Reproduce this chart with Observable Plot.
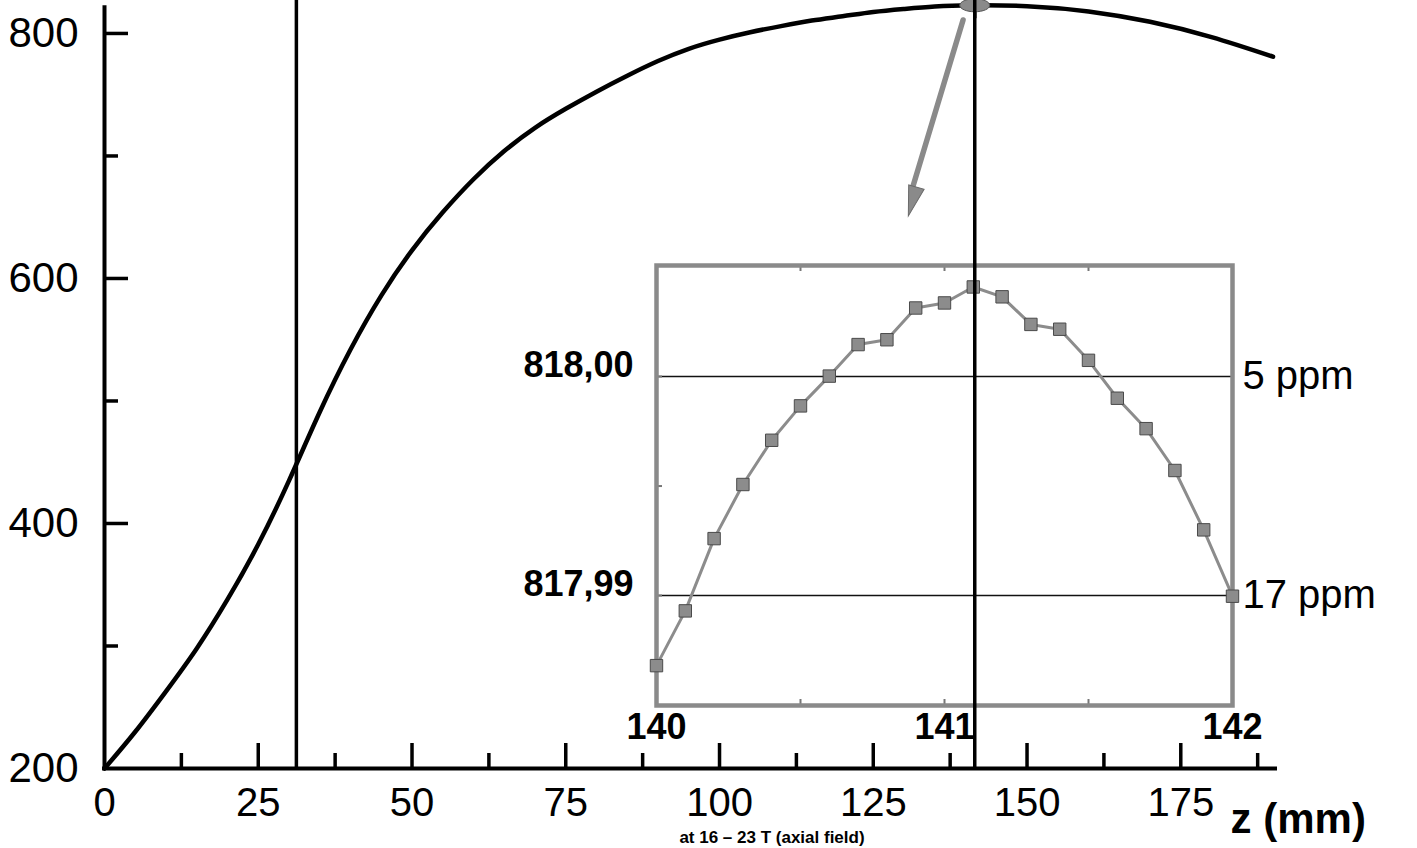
<!DOCTYPE html>
<html>
<head>
<meta charset="utf-8">
<script src="https://cdn.jsdelivr.net/npm/d3@7"></script>
<script src="https://cdn.jsdelivr.net/npm/@observablehq/plot@0.6"></script>
<style>
html, body { margin: 0; padding: 0; background: #fff; }
#wrap { position: relative; width: 1417px; height: 848px; overflow: hidden; font-family: "Liberation Sans", Arial, Helvetica, sans-serif; }
#inset { position: absolute; left: 0; top: 0; z-index: 1; }
#main { position: absolute; left: 0; top: 0; z-index: 2; }
#wrap svg { overflow: visible; }
#caption { position: absolute; top: 829px; left: 772px; transform: translateX(-50%); white-space: nowrap;
  font: bold 17px "Liberation Sans", Arial, sans-serif; line-height: 1; color: #000; z-index: 3; }
</style>
</head>
<body>
<div id="wrap">
  <div id="inset"></div>
  <div id="main"></div>
  <div id="caption"></div>
</div>
<script>
// ---- main curve: field B vs z (mm) ----
const mainZ = [0, 5, 10, 15, 20, 25, 30, 35, 40, 45, 50, 55, 60, 65, 70, 75, 80, 85, 90, 95, 100, 105, 110, 115, 120, 125, 130, 135, 141, 150, 160, 170, 180, 190];
const mainB = [200, 230, 263, 298, 338, 383, 435, 491, 542, 586, 623, 654, 681, 704, 723, 738.5, 752.5, 765.5, 777.5, 787.5, 795, 801, 806, 810.5, 814, 817.5, 820, 822, 823, 822.3, 818, 809.5, 797, 781];

// ---- inset: zoom around the maximum ----
const insetZ = [140.0, 140.1, 140.2, 140.3, 140.4, 140.5, 140.6, 140.7, 140.8, 140.9, 141.0, 141.1, 141.2, 141.3, 141.4, 141.5, 141.6, 141.7, 141.8, 141.9, 142.0];
const insetB = [817.9868, 817.9893, 817.9926, 817.99507, 817.99709, 817.99866, 818.00002, 818.00146, 818.00168, 818.00313, 818.00336, 818.00409, 818.00364, 818.00238, 818.00216, 818.00074, 817.99901, 817.99762, 817.99571, 817.99300, 817.98997];

// ---- main axis ticks ----
const xTickValues = [0, 25, 50, 75, 100, 125, 150, 175];
const xMajorTicks = [25, 50, 75, 100, 125, 150, 175];
const xMinorTicks = [12.5, 37.5, 62.5, 87.5, 112.5, 137.5, 162.5, 187.5];
const yTickValues = [200, 400, 600, 800];
const yMajorTicks = [400, 600, 800];
const yMinorTicks = [300, 500, 700];
const xAxisLabel = ["z (mm)"];

// ---- annotations ----
const guideZ = [31.2, 141.5];
const peakZ = [141.5];
const peakB = [823];
const arrowFromZ = [139.6], arrowFromB = [811];
const arrowToZ = [130.7], arrowToB = [651];

// ---- inset ticks / labels ----
const insetXTicks = [140, 141, 142];
const insetXMinor = [140.5, 141, 141.5];
const insetYMinor = [818.00, 817.995, 817.99];
const insetGridB = [818.00, 817.99];
const insetGridLabels = ["818,00", "817,99"];
const ppmLabels = ["5 ppm", "17 ppm"];
const captionText = "at 16 \u2013 23 T (axial field)";

const FONT = "Liberation Sans, Arial, Helvetica, sans-serif";
const W = 1417, H = 830;

const mainData = mainZ.map((z, i) => ({z, b: mainB[i]}));
const insetData = insetZ.map((z, i) => ({z, b: insetB[i]}));

const ellipseSymbol = {
  draw(ctx) {
    const rx = 15, ry = 6.5, k = 0.5523;
    ctx.moveTo(rx, 0);
    ctx.bezierCurveTo(rx, ry * k, rx * k, ry, 0, ry);
    ctx.bezierCurveTo(-rx * k, ry, -rx, ry * k, -rx, 0);
    ctx.bezierCurveTo(-rx, -ry * k, -rx * k, -ry, 0, -ry);
    ctx.bezierCurveTo(rx * k, -ry, rx, -ry * k, rx, 0);
    ctx.closePath();
  }
};
// narrow arrow head, tip at origin, pointing down
const headSymbol = {
  draw(ctx) {
    ctx.moveTo(0, 0);
    ctx.lineTo(-8, -30);
    ctx.lineTo(8, -30);
    ctx.closePath();
  }
};

const ypx = 768 / (826.9 - 200); // px per unit (main y)
const xpx = 1171 / 190.4;        // px per unit (main x)
const adx = (arrowToZ[0] - arrowFromZ[0]) * xpx, ady = (arrowFromB[0] - arrowToB[0]) * ypx;
const headRotate = -Math.atan2(adx, ady) * 180 / Math.PI;

const main = Plot.plot({
  width: W, height: H,
  marginLeft: 104, marginRight: W - 1275, marginTop: 0, marginBottom: H - 768,
  x: {domain: [0, 190.4], axis: null},
  y: {domain: [200, 826.9], axis: null},
  style: {background: "transparent", overflow: "visible", fontFamily: FONT},
  marks: [
    Plot.ruleX(guideZ, {y1: 200, y2: 826.9, stroke: "#000", strokeWidth: 3.5}),
    Plot.ruleY([200], {stroke: "#000", strokeWidth: 4, strokeLinecap: "square"}),
    Plot.ruleX([0], {y1: 200, y2: 821, stroke: "#000", strokeWidth: 4, strokeLinecap: "square"}),
    Plot.ruleX(xMajorTicks, {y1: 200, y2: 200 + 25 / ypx, stroke: "#000", strokeWidth: 3.5}),
    Plot.ruleX(xMinorTicks, {y1: 200, y2: 200 + 15 / ypx, stroke: "#000", strokeWidth: 3.5}),
    Plot.ruleY(yMajorTicks, {x1: 0, x2: 24 / xpx, stroke: "#000", strokeWidth: 3.5}),
    Plot.ruleY(yMinorTicks, {x1: 0, x2: 14 / xpx, stroke: "#000", strokeWidth: 3.5}),
    Plot.text(xTickValues, {x: d => d, y: 200, text: d => String(d), dy: 47, lineAnchor: "bottom", textAnchor: "middle", fontSize: 40, fill: "#000", fontFamily: FONT}),
    Plot.text(yTickValues, {x: 0, y: d => d, text: d => String(d), dx: -26, textAnchor: "end", lineAnchor: "middle", fontSize: 42, fill: "#000", fontFamily: FONT}),
    Plot.text(xAxisLabel, {x: 183.1, y: 200, text: d => d, dy: 64, lineAnchor: "bottom", textAnchor: "start", fontSize: 42, fontWeight: "bold", fill: "#000", fontFamily: FONT}),
    Plot.line(mainData, {x: "z", y: "b", curve: "natural", stroke: "#000", strokeWidth: 4.5}),
    Plot.link([0], {x1: () => arrowFromZ[0], y1: () => arrowFromB[0], x2: () => arrowToZ[0] + 0.5, y2: () => arrowToB[0] + 20, stroke: "#8a8a8a", strokeWidth: 5.5, strokeLinecap: "round"}),
    Plot.dot([0], {x: () => arrowToZ[0], y: () => arrowToB[0], symbol: headSymbol, rotate: headRotate, fill: "#8a8a8a", stroke: "#6a6a6a", strokeWidth: 1}),
    Plot.dot(peakZ.map((z, i) => ({z, b: peakB[i]})), {x: "z", y: "b", symbol: ellipseSymbol, fill: "#8a8a8a", stroke: "#555", strokeWidth: 1}),
    Plot.ruleX([guideZ[1]], {y1: 812, y2: 826.9, stroke: "#000", strokeWidth: 3.5})
  ]
});
document.getElementById("main").append(main);

const iy = 21900; // px per unit in inset y
const ix = 288;   // px per unit in inset x
const yTop = 818.00507, yBot = 817.98498;
const inset = Plot.plot({
  width: W, height: H,
  marginLeft: 656, marginRight: W - 1232, marginTop: 265, marginBottom: H - 705,
  x: {domain: [140, 142], axis: null},
  y: {domain: [yBot, yTop], axis: null},
  style: {background: "transparent", overflow: "visible", fontFamily: FONT},
  marks: [
    Plot.ruleY(insetGridB, {stroke: "#111", strokeWidth: 1.4}),
    Plot.ruleX(insetXMinor, {y1: yTop, y2: yTop - 6 / iy, stroke: "#777", strokeWidth: 2}),
    Plot.ruleX(insetXMinor, {y1: yBot, y2: yBot + 6 / iy, stroke: "#777", strokeWidth: 2}),
    Plot.ruleY(insetYMinor, {x1: 140, x2: 140 + 6 / ix, stroke: "#777", strokeWidth: 2}),
    Plot.frame({stroke: "#8a8a8a", strokeWidth: 4.5}),
    Plot.line(insetData, {x: "z", y: "b", stroke: "#8c8c8c", strokeWidth: 3}),
    Plot.dot(insetData, {x: "z", y: "b", symbol: "square", r: 7, fill: "#8c8c8c", stroke: "#4a4a4a", strokeWidth: 1}),
    Plot.text(insetGridB, {x: 140, y: d => d, text: (d, i) => insetGridLabels[i], dx: -23, textAnchor: "end", lineAnchor: "bottom", fontSize: 36, fontWeight: "bold", fill: "#000", fontFamily: FONT}),
    Plot.text(insetGridB, {x: 142, y: d => d, text: (d, i) => ppmLabels[i], dx: 10, textAnchor: "start", lineAnchor: "middle", fontSize: 40, fill: "#000", fontFamily: FONT}),
    Plot.text(insetXTicks, {x: d => d, y: yBot, text: d => String(d), dy: 33, textAnchor: "middle", lineAnchor: "bottom", fontSize: 36, fontWeight: "bold", fill: "#000", fontFamily: FONT})
  ]
});
document.getElementById("inset").append(inset);

document.getElementById("caption").textContent = captionText;
</script>
</body>
</html>
